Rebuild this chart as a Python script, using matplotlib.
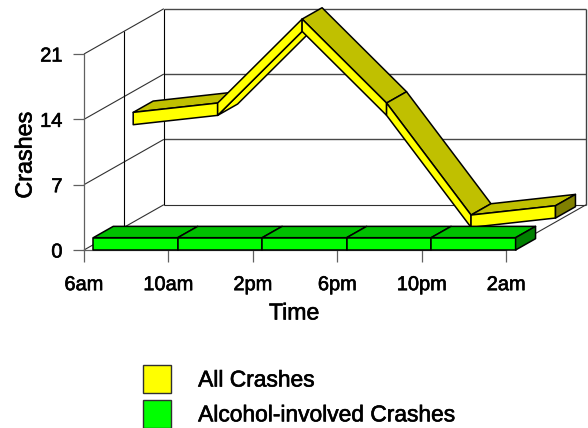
import matplotlib
matplotlib.use('Agg')
import matplotlib.pyplot as plt
from matplotlib.patches import Polygon, Patch
import matplotlib.patheffects as pe

plt.rcParams['font.family'] = ['Liberation Sans', 'DejaVu Sans']

times = ['6am', '10am', '2pm', '6pm', '10pm', '2am']
all_crashes = [11, 12, 21, 12, 0, 1]
alcohol_crashes = [0, 0, 0, 0, 0, 0]
y_ticks = [0, 7, 14, 21]

# depth direction of the fake 3d box, in data units per full depth
DX = 0.945
DY = 4.85
MARGIN = 0.11     # ribbon start inside the category
THICK = 1.32      # ribbon height
WIDTH = 0.25      # ribbon depth

W, H = 588, 428
fig = plt.figure(figsize=(W / 100, H / 100), dpi=100)
ax = fig.add_axes([84 / W, (H - 250) / H, (506.3 - 84) / W, 196 / H])
ax.set_xlim(0, 5)
ax.set_ylim(0, 21)
ax.patch.set_visible(False)

# slightly heavier text, the original labels are rendered thick
heavy = [pe.withStroke(linewidth=0.45, foreground='black')]

def proj(x, y, z):
  return (x + MARGIN * (z >= 0) + z * DX, y + z * DY)

def wall_line(xs, ys, c='#303030', lw=0.8):
  ax.plot(xs, ys, color=c, lw=lw, clip_on=False, zorder=1, solid_capstyle='butt')

xmax = len(times) - 1

# back wall and grid
for v in y_ticks[1:]:
  wall_line([DX, xmax + DX], [v + DY, v + DY], c='#484848', lw=1.0)
  wall_line([0, DX], [v, v + DY])
wall_line([DX, xmax + DX], [DY, DY])
wall_line([0, DX], [0, DY])
wall_line([xmax, xmax + DX], [0, DY])
wall_line([DX, DX], [DY, 21 + DY], c='black')
wall_line([xmax + DX, xmax + DX], [DY, 21 + DY], c='#404040', lw=1.0)
wall_line([DX / 2, DX / 2], [DY / 2, 21 + DY / 2], c='black')

def poly(pts, color, zo):
  ax.add_patch(Polygon(pts, closed=True, fc=color, ec='black', lw=1.1,
                       clip_on=False, zorder=zo, joinstyle='round'))

def ribbon(values, z, front, top, side, zo):
  for i in range(len(values) - 1):
    a, b = values[i], values[i + 1]
    f0, f1 = proj(i, a, z), proj(i + 1, b, z)
    t0, t1 = proj(i, a + THICK, z), proj(i + 1, b + THICK, z)
    bt0, bt1 = proj(i, a + THICK, z + WIDTH), proj(i + 1, b + THICK, z + WIDTH)
    bb0, bb1 = proj(i, a, z + WIDTH), proj(i + 1, b, z + WIDTH)
    if b - a > 3:
      # steep rise, the underside shows instead of the top
      poly([f0, f1, bb1, bb0], front, zo)
    else:
      poly([t0, t1, bt1, bt0], top, zo)
    poly([t0, t1, f1, f0], front, zo)
    zo += 1
  # end cap
  n = len(values) - 1
  v = values[n]
  poly([proj(n, v, z), proj(n, v + THICK, z), proj(n, v + THICK, z + WIDTH),
        proj(n, v, z + WIDTH)], side, zo)

ribbon(all_crashes, 0.5, '#FFFF00', '#C0C000', '#808000', 3)
ribbon(alcohol_crashes, 0, '#00FF00', '#00C000', '#008000', 20)

ax.set_xticks(range(len(times)))
ax.set_xticklabels(times, fontsize=14.4)
ax.set_yticks(y_ticks)
ax.tick_params(axis='x', length=8.6, width=0.9, color='#606060', pad=9.5)
ax.tick_params(axis='y', length=8, width=0.9, color='#606060', pad=7.5, labelsize=14.4)
for lab in ax.get_xticklabels() + ax.get_yticklabels():
  lab.set_path_effects(heavy)
for s in ['top', 'right']:
  ax.spines[s].set_visible(False)
for s in ['left', 'bottom']:
  ax.spines[s].set_color('#606060')
  ax.spines[s].set_linewidth(0.9)

fig.text(294 / W, 1 - 313 / H, 'Time', fontsize=16.6, ha='center', va='center', path_effects=heavy)
fig.text(25 / W, 1 - 155 / H, 'Crashes', fontsize=16.8, rotation=90, ha='center', va='center', path_effects=heavy)

handles = [Patch(fc='#FFFF00', ec='#303030', lw=1.0), Patch(fc='#00FF00', ec='#303030', lw=1.0)]
leg = fig.legend(handles, ['All Crashes', 'Alcohol-involved Crashes'], frameon=False,
                 loc='upper left', bbox_to_anchor=(143 / W, 1 - 365 / H), borderaxespad=0, borderpad=0,
                 fontsize=16.4, handlelength=1.22, handleheight=1.515, handletextpad=1.2, labelspacing=0.3)
for t in leg.get_texts():
  t.set_path_effects(heavy)

fig.savefig('out.png', dpi=100)
